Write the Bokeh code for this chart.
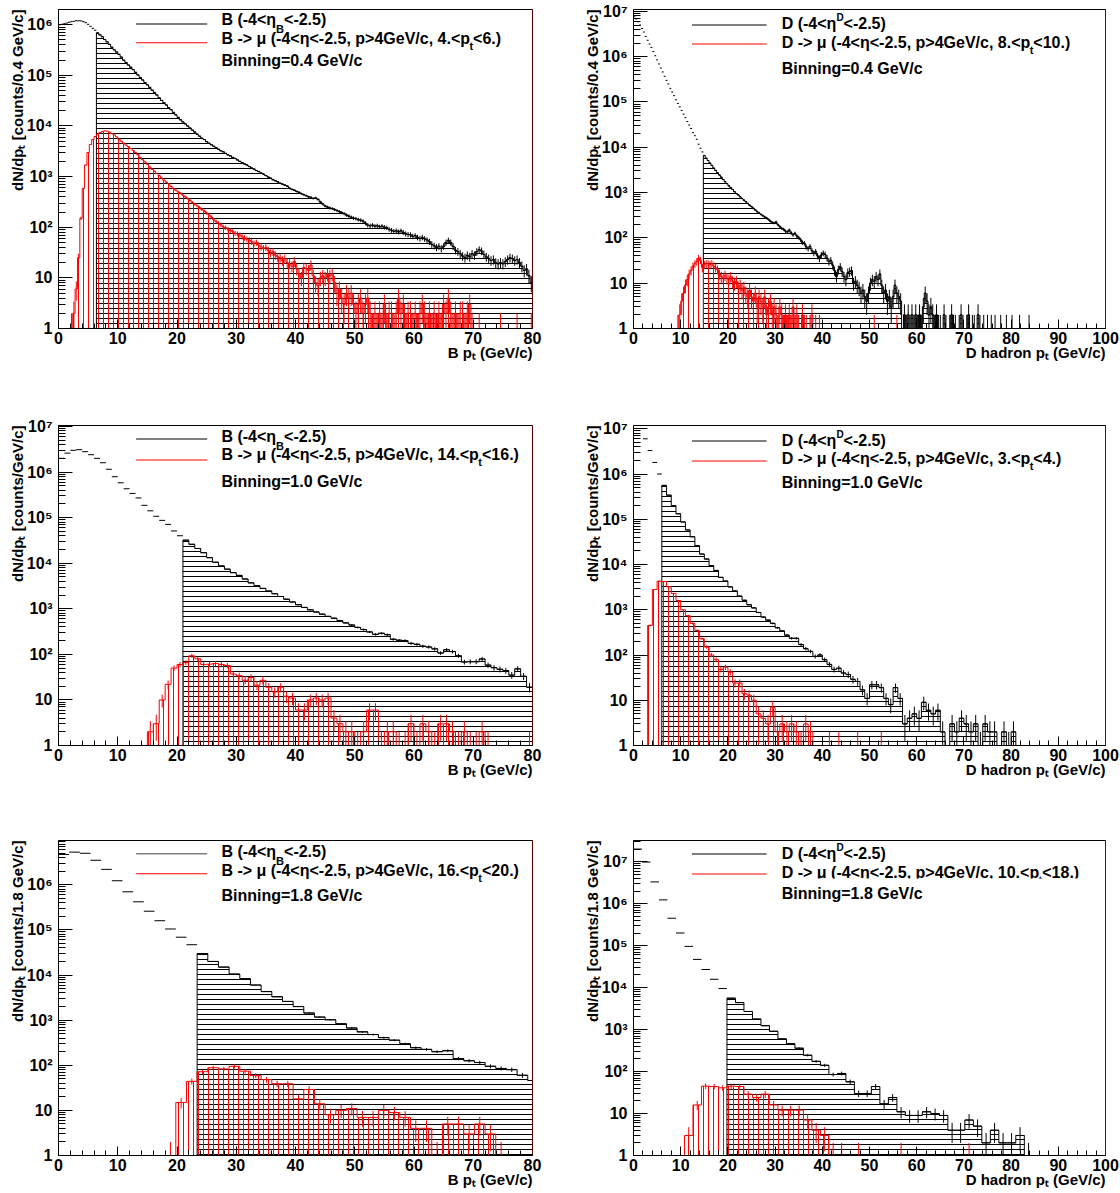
import math
from bokeh.plotting import figure
from bokeh.layouts import row, column
from bokeh.models import FixedTicker, Label, Span, Range1d, CustomJSTickFormatter, Title, BoxAnnotation
from bokeh.embed import file_html
from bokeh.resources import INLINE

FONT = "Liberation Sans"
RED = "#ff0000"

# ---------------- data (counts per bin) ----------------
# B, 0.4 GeV/c bins, 0..80
b04_all = [
    1.0e6, 1.02e6, 1.05e6, 1.08e6, 1.12e6, 1.15e6, 1.17e6, 1.2e6, 1.2e6, 1.19e6,
    1.15e6, 1.1e6, 1.02e6, 9.3e5, 8.5e5, 7.8e5, 6.9e5, 6.3e5, 5.8e5, 5.1e5,
    4.6e5, 4.1e5, 3.6e5, 3.2e5, 2.9e5, 2.6e5, 2.3e5, 2.0e5, 1.8e5, 1.6e5,
    1.45e5, 1.3e5, 1.15e5, 1.02e5, 9.1e4, 8.1e4, 7.2e4, 6.5e4, 5.8e4, 5.1e4,
    4.6e4, 4.1e4, 3.6e4, 3.2e4, 2.9e4, 2.6e4, 2.3e4, 2.1e4, 1.86e4, 1.66e4,
    1.48e4, 1.32e4, 1.2e4, 1.1e4, 1.0e4, 9100, 8300, 7600, 6900, 6300,
    5750, 5400, 4900, 4570, 4270, 3980, 3720, 3470, 3240, 3090,
    2880, 2690, 2570, 2400, 2290, 2140, 2000, 1900, 1780, 1700,
    1580, 1480, 1410, 1320, 1260, 1170, 1120, 1050, 980, 930,
    870, 830, 790, 740, 710, 680, 650, 590, 560, 540,
    510, 490, 460, 440, 420, 400, 390, 370, 380, 355,
    316, 288, 263, 251, 240, 234, 224, 214, 204, 195,
    186, 174, 166, 158, 151, 148, 141, 138, 132, 120,
    110, 107, 110, 105, 107, 102, 105, 100, 98, 91,
    87, 83, 85, 81, 85, 79, 74, 72, 71, 66,
    68, 63, 60, 63, 59, 56, 52, 46, 43, 40,
    42, 38, 42, 50, 55, 50, 42, 35, 33, 30,
    27, 25, 28, 26, 30, 28, 33, 36, 34, 29,
    26, 24, 22, 23, 20, 19, 20, 19, 21, 23,
    25, 24, 22, 23, 20, 17, 14, 15, 11, 8,
]
b04_mu = [
    0, 0, 0, 0, 0, 1, 2, 6, 25, 150,
    580, 1700, 3000, 4300, 5400, 6200, 6900, 7400, 7800, 8000,
    7900, 7600, 7100, 6700, 6100, 5500, 5000, 4600, 4200, 3900,
    3600, 3300, 3000, 2700, 2400, 2150, 1950, 1750, 1550, 1400,
    1280, 1150, 1050, 940, 850, 780, 720, 640, 580, 540,
    500, 470, 430, 400, 370, 340, 310, 285, 265, 245,
    225, 210, 190, 175, 160, 140, 130, 120, 112, 102,
    98, 92, 86, 82, 76, 74, 70, 65, 62, 58,
    56, 52, 48, 50, 44, 41, 38, 40, 35, 31,
    33, 28, 26, 25, 22, 24, 20, 19, 17, 21,
    15, 12, 10, 16, 15, 14, 18, 11, 8, 7,
    10, 11, 10, 12, 11, 12, 8, 5, 6, 4,
    3, 5, 4, 5, 3, 2, 3, 4, 2, 3,
    4, 2, 1, 2, 1, 2, 1, 3, 1, 2,
    2, 1, 2, 4, 2, 3, 1, 2, 2, 1,
    2, 1, 2, 3, 2, 1, 2, 1, 2, 1,
    2, 1, 3, 2, 4, 2, 1, 2, 1, 2,
    2, 1, 2, 3, 1, 0, 0, 1, 0, 0,
    0, 0, 0, 0, 0, 0, 1, 0, 0, 0,
    0, 0, 0, 1, 0, 0, 0, 0, 0, 1,
]
# D, 0.4 GeV/c bins, 0..100
d04_all = [
    7.6e6, 6.8e6, 5.9e6, 5.0e6, 4.2e6, 3.5e6, 2.8e6, 2.3e6, 1.9e6, 1.6e6,
    1.3e6, 1.05e6, 8.5e5, 6.9e5, 5.6e5, 4.6e5, 3.7e5, 3.0e5, 2.5e5, 2.0e5,
    1.66e5, 1.38e5, 1.12e5, 9.3e4, 7.8e4, 6.5e4, 5.4e4, 4.5e4, 3.7e4, 3.1e4,
    2.6e4, 2.1e4, 1.8e4, 1.5e4, 1.17e4, 9500, 7900, 6600, 5750, 5100,
    4470, 3980, 3470, 3090, 2750, 2450, 2190, 1950, 1740, 1580,
    1410, 1290, 1170, 1050, 950, 890, 810, 740, 680, 630,
    575, 525, 490, 450, 415, 380, 355, 330, 310, 290,
    275, 255, 234, 219, 214, 224, 195, 178, 162, 155,
    141, 135, 148, 129, 117, 126, 110, 102, 91, 79,
    76, 63, 58, 65, 52, 46, 50, 40, 35, 42,
    46, 43, 36, 30, 32, 25, 19, 14, 20, 23,
    18, 14, 12, 17, 18, 19, 10, 11, 9, 8,
    6, 7, 5, 4, 6, 10, 12, 11, 14, 12,
    16, 9, 6, 7, 4, 5, 3, 5, 9, 6,
    5, 4, 0, 2, 1, 2, 1, 2, 1, 2,
    1, 2, 1, 3, 6, 4, 2, 3, 2, 1,
    2, 1, 1, 0, 2, 1, 0, 1, 2, 1,
    1, 0, 1, 2, 1, 0, 1, 2, 0, 1,
    1, 0, 2, 1, 0, 1, 0, 1, 0, 1,
    0, 1, 0, 0, 1, 0, 0, 1, 0, 0,
    1, 0, 0, 0, 1, 0, 0, 0, 0, 1,
] + [0] * 40
d04_mu = [0] * 23 + [
    1, 2, 4, 6, 9, 12, 16, 19, 24, 27,
    30, 36, 32, 22, 26, 27, 27, 26, 27, 24,
    22, 20, 16, 14, 13, 15, 13, 12, 14, 11,
    10, 11, 8, 9, 7, 8, 6, 5, 7, 5,
    4, 6, 3, 5, 4, 3, 5, 2, 3, 4,
    2, 3, 2, 1, 3, 2, 1, 2, 1, 2,
    1, 3, 1, 2, 1, 0, 2, 1, 1, 0,
    1, 2, 0, 1, 0, 1, 0,
] + [0] * 27 + [1] + [0] * 11 + [1] + [0] * 110
# B, 1.0 GeV/c bins, 0..80
b10_all = [
    2.0e6, 2.6e6, 3.0e6, 3.1e6, 2.8e6, 2.4e6, 2.0e6, 1.6e6, 1.15e6, 7.9e5,
    5.8e5, 4.3e5, 3.4e5, 2.7e5, 1.86e5, 1.41e5, 1.07e5, 8.7e4, 7.1e4, 5.1e4,
    4.0e4, 3.2e4, 2.6e4, 2.1e4, 1.7e4, 1.32e4, 1.05e4, 8700, 7400, 6200,
    5400, 4500, 3700, 3200, 2800, 2450, 2140, 1860, 1620, 1410,
    1230, 1070, 950, 850, 760, 680, 620, 550, 490, 440,
    390, 350, 310, 275, 290, 270, 214, 204, 200, 174,
    166, 151, 145, 132, 107, 126, 115, 93, 68, 69,
    69, 79, 58, 51, 47, 44, 35, 48, 33, 19,
]
b10_mu = [
    0, 0, 0, 0, 0, 0, 0, 0, 0, 0,
    0, 0, 0, 0, 0, 2, 3, 10, 22, 50,
    60, 66, 93, 80, 60, 61, 63, 60, 57, 37,
    34, 27, 31, 21, 27, 19, 15, 19, 12, 11,
    6, 6, 10, 11, 10, 11, 4, 3, 2, 2,
    1, 2, 6, 6, 1, 2, 2, 1, 1, 3,
    1, 3, 2, 1, 3, 3, 2, 1, 2, 1,
    1, 2, 1, 0, 0, 0, 0, 0, 0, 1,
]
# D, 1.0 GeV/c bins, 0..100
d10_all = [
    1.4e7, 1.25e7, 6.0e6, 3.3e6, 1.8e6, 1.0e6, 5.6e5, 3.4e5, 2.0e5, 1.32e5,
    8.7e4, 5.8e4, 4.1e4, 2.6e4, 1.7e4, 1.32e4, 9500, 7400, 5200, 4300,
    3200, 2600, 2000, 1620, 1290, 1100, 870, 690, 590, 500,
    400, 340, 275, 234, 234, 170, 138, 120, 93, 100,
    79, 62, 48, 51, 40, 37, 29, 26, 17, 11,
    22, 22, 19, 11, 8, 19, 11, 3, 4, 5,
    4, 9, 6, 5, 6, 2, 0, 3, 2, 4,
    3, 2, 3, 1, 3, 2, 2, 0, 2, 1,
    2, 0, 0, 0, 0, 0, 0, 0, 0, 0,
    0, 0, 0, 0, 0, 0, 0, 0, 0, 0,
]
d10_mu = [
    0, 0, 0, 450, 2800, 4300, 4200, 3200, 2300, 1600,
    1000, 740, 500, 350, 230, 150, 100, 79, 48, 54,
    42, 24, 24, 14, 13, 10, 5, 4, 3, 7,
    2, 3, 2, 3, 2, 1, 3, 2, 0, 0,
    0, 1, 0, 1, 0, 0, 0, 1, 0, 0,
    0, 0, 1, 0, 0, 0, 0, 0, 0, 0,
] + [0] * 40
# B, 1.8 GeV/c bins, 0..81
b18_all = [
    4.7e6, 5.3e6, 5.0e6, 3.5e6, 2.2e6, 1.23e6, 7.0e5, 4.2e5, 2.6e5, 1.6e5,
    1.05e5, 6.9e4, 4.7e4, 3.0e4, 2.0e4, 1.5e4, 1.05e4, 8300, 6000, 4300,
    3300, 2600, 2000, 1440, 1170, 1020, 830, 670, 550, 480,
    410, 360, 300, 245, 225, 200, 210, 141, 126, 115,
    95, 85, 80, 60, 46,
]
b18_mu = [
    0, 0, 0, 0, 0, 0, 0, 0, 0, 0,
    1, 15, 44, 72, 88, 83, 95, 74, 59, 48,
    39, 39, 18, 29, 14, 8, 10, 11, 7, 7,
    10, 9, 7, 4, 4, 1, 5, 5, 3, 5,
    3, 1, 0, 0, 0,
]
# D, 1.8 GeV/c bins, 0..100.8
d18_all = [
    2.0e7, 9.8e6, 3.3e6, 1.23e6, 4.5e5, 2.0e5, 9.6e4, 4.7e4, 2.7e4, 1.58e4,
    9500, 5600, 4400, 2700, 1780, 1240, 910, 600, 460, 360,
    245, 175, 141, 85, 90, 57, 30, 30, 44, 17,
    24, 11, 9, 9, 11, 10, 9, 4, 4, 7,
    5, 2, 4, 2, 2, 3, 1, 0, 0, 0,
    0, 0, 0, 0, 0, 0,
]
d18_mu = [
    0, 0, 0, 0, 0, 0, 3, 16, 45, 44,
    41, 45, 44, 29, 24, 29, 16, 12, 12, 12,
    7, 4, 3, 1, 1, 0, 1, 0, 0, 0,
    0, 1, 0, 0, 0, 0, 0, 0, 0, 1,
] + [0] * 16

# ---------------- text metrics (Arial/Liberation Sans Bold advance widths) ----------------
ADV = {' ': 278, '(': 333, ')': 333, '-': 333, '<': 584, '>': 584, '.': 278, ',': 278,
       '=': 584, '/': 278, '[': 333, ']': 333, 'B': 722, 'D': 722, 'G': 778, 'V': 667,
       'N': 722, 'a': 556, 'c': 556, 'd': 611, 'e': 556, 'g': 611, 'h': 611, 'i': 278,
       'n': 611, 'o': 611, 'p': 611, 'r': 389, 's': 556, 't': 333, 'u': 611,
       'η': 611, 'μ': 576}
for _d in "0123456789":
    ADV[_d] = 556

TEXT_LIFT = 5  # the label anchor sits a few pixels above the drawn baseline


def tw(s, size):
    return sum(ADV.get(c, 600) for c in s) * size / 1000.0


def lab(p, **kw):
    base = dict(text_font=FONT, text_font_style="bold", text_color="black",
                text_align="left", text_baseline="alphabetic")
    base.update(kw)
    p.add_layout(Label(**base))


def hrich(p, pieces, x, y, dx, dy):
    cx = dx
    for t, s, shift in pieces:
        lab(p, x=x, y=y, x_offset=cx, y_offset=dy - shift + TEXT_LIFT, text=t,
            text_font_size=f"{s}px")
        cx += tw(t, s)


def draw_hist(p, edges, vals, i0, color, hatch, ymin=1.0):
    xs, ys = [edges[i0]], [ymin]
    for i in range(i0, len(vals)):
        v = max(vals[i], ymin)
        xs += [edges[i], edges[i + 1]]
        ys += [v, v]
    xs.append(edges[len(vals)])
    ys.append(ymin)
    p.patch(xs, ys, fill_color=None, line_color=None, hatch_pattern=hatch,
            hatch_color=color, hatch_scale=5, hatch_weight=1)
    p.line(xs, ys, line_color=color, line_width=1)


def draw_errors(p, edges, vals, color, dashes):
    x0, x1, yv, xc, ylo, yhi = [], [], [], [], [], []
    for i, v in enumerate(vals):
        if v <= 0:
            continue
        e = math.sqrt(v)
        x0.append(edges[i]); x1.append(edges[i + 1]); yv.append(v)
        xc.append(0.5 * (edges[i] + edges[i + 1]))
        ylo.append(max(v - e, 0.4)); yhi.append(v + e)
    if dashes:
        p.segment(x0, yv, x1, yv, line_color=color, line_width=1)
    p.segment(xc, ylo, xc, yhi, line_color=color, line_width=1)


CFG = [
    dict(all=b04_all, mu=b04_mu, w=0.4, cut=16, xmax=80, ymax=2.0e6, kind="B",
         pt=("4.", "6."), binlab="0.4 GeV/c", ylab=" [counts/0.4 GeV/c]", leg=(14, 15, 33, 34, 56)),
    dict(all=d04_all, mu=d04_mu, w=0.4, cut=37, xmax=100, ymax=1.1e7, kind="D",
         pt=("8.", "10."), binlab="0.4 GeV/c", ylab=" [counts/0.4 GeV/c]", leg=(15, 19, 34, 38, 64)),
    dict(all=b10_all, mu=b10_mu, w=1.0, cut=21, xmax=80, ymax=1.05e7, kind="B",
         pt=("14.", "16."), binlab="1.0 GeV/c", ylab=" [counts/GeV/c]", leg=(13, 16, 34, 34, 61)),
    dict(all=d10_all, mu=d10_mu, w=1.0, cut=6, xmax=100, ymax=1.18e7, kind="D",
         pt=("3.", "4."), binlab="1.0 GeV/c", ylab=" [counts/GeV/c]", leg=(15, 20, 35, 38, 62)),
    dict(all=b18_all, mu=b18_mu, w=1.8, cut=13, xmax=80, ymax=9.6e6, kind="B",
         pt=("16.", "20."), binlab="1.8 GeV/c", ylab=" [counts/1.8 GeV/c]", leg=(13, 16, 33, 35, 60)),
    dict(all=d18_all, mu=d18_mu, w=1.8, cut=11, xmax=100, ymax=3.2e7, kind="D",
         pt=("10.", "18."), binlab="1.8 GeV/c", ylab=" [counts/1.8 GeV/c]", leg=(13, 18, 33, 37, 58),
         mask=True),
]
# per row: height, bottom border, top border (left figure, right figure)
ROWS = [dict(h=398, bb=70, bt=(7, 9)), dict(h=398, bb=51, bt=(26, 27)),
        dict(h=396, bb=37, bt=(41, 44))]

SUPJS = """
const e = Math.round(Math.log10(tick));
const sup = ['\u2070','\u00b9','\u00b2','\u00b3','\u2074','\u2075','\u2076','\u2077','\u2078','\u2079'];
if (e == 0) { return '1'; }
if (e == 1) { return '10'; }
return '10' + sup[e];
"""


def make(idx):
    c = CFG[idx]
    r = ROWS[idx // 2]
    left = (idx % 2 == 0)
    W, bl, br = (560, 58, 28) if left else (560, 73, 15)
    bt = r["bt"][0] if left else r["bt"][1]
    FH = r["h"] - bt - r["bb"]
    xmax, ymax = c["xmax"], c["ymax"]
    p = figure(width=W, height=r["h"], x_range=Range1d(0, xmax), y_range=Range1d(1, ymax),
               y_axis_type="log", output_backend="svg", toolbar_location=None, title=None,
               min_border_left=bl, min_border_right=br, min_border_top=bt,
               min_border_bottom=r["bb"])
    p.background_fill_color = "white"
    p.border_fill_color = "white"
    p.outline_line_color = "black"
    p.outline_line_width = 1
    p.xgrid.visible = False
    p.ygrid.visible = False

    p.xaxis.ticker = FixedTicker(ticks=list(range(0, xmax + 1, 10)),
                                 minor_ticks=list(range(0, xmax + 1, 2)))
    top_dec = int(math.floor(math.log10(ymax) + 1e-9))
    p.yaxis.ticker = FixedTicker(ticks=[10.0 ** k for k in range(0, top_dec + 1)],
                                 minor_ticks=[m * 10.0 ** k for k in range(0, top_dec + 1)
                                              for m in range(2, 10) if m * 10.0 ** k < ymax])
    for ax, mj, mn in ((p.xaxis, 9, 5), (p.yaxis, 14, 7)):
        ax.major_tick_in = mj
        ax.major_tick_out = 0
        ax.minor_tick_in = mn
        ax.minor_tick_out = 0
        ax.axis_line_color = "black"
        ax.major_tick_line_color = "black"
        ax.minor_tick_line_color = "black"
        ax.major_label_text_font = FONT
        ax.major_label_text_font_style = "bold"
        ax.major_label_text_font_size = "16px"
        ax.major_label_text_color = "black"
    p.xaxis.major_label_standoff = 3
    p.yaxis.major_label_standoff = 6
    p.yaxis.formatter = CustomJSTickFormatter(code=SUPJS)

    # axis titles (outside the frame, laid out by Bokeh)
    xt = "B p\u209c (GeV/c)" if c["kind"] == "B" else "D hadron p\u209c (GeV/c)"
    p.add_layout(Title(text=xt, align="right", text_font=FONT, text_font_style="bold",
                       text_font_size="15px", text_color="black", standoff=-9), "below")
    p.add_layout(Title(text="dN/dp\u209c" + c["ylab"], align="right", text_font=FONT,
                       text_font_style="bold", text_font_size="15px", text_color="black",
                       standoff=-5), "left")

    n = len(c["all"])
    edges = [c["w"] * i for i in range(n + 1)]
    draw_hist(p, edges, c["all"], c["cut"], "black", "horizontal_line")
    draw_errors(p, edges, c["all"], "black", True)
    nm = len(c["mu"])
    edges_m = [c["w"] * i for i in range(nm + 1)]
    draw_hist(p, edges_m, c["mu"], 0, RED, "vertical_line")
    draw_errors(p, edges_m, c["mu"], RED, False)

    p.add_layout(Span(location=xmax, dimension="height",
                      line_color="#aa0000" if left else RED, line_width=1))

    # legend: two 1-pixel-high bars (black, red), then the texts
    l1, t1, l2, t2, t3 = c["leg"]
    if left:
        lx0, lx1, tx = 13.1, 25.1, 27.5
    else:
        lx0, lx1, tx = 12.4, 28.2, 31.4
    ltop = math.log10(ymax)

    def ypx(off):
        return 10 ** (ltop * (1 - off / FH))

    p.quad(left=[lx0, lx0], right=[lx1, lx1], top=[ypx(l1), ypx(l2)],
           bottom=[ypx(l1 + 1), ypx(l2 + 1)], fill_color=["black", RED], line_color=None)
    K = c["kind"]
    if K == "B":
        p1 = [("B (-4<η", 16, 0), ("B", 11, 9), ("<-2.5)", 16, 0)]
    else:
        p1 = [("D (-4<η", 16, 0), ("D", 10, -6), ("<-2.5)", 16, 0)]
    hrich(p, p1, tx, ymax, 0, -t1)
    p2 = [(f"{K} -> μ (-4<η<-2.5, p>4GeV/c, {c['pt'][0]}<p", 16, 0), ("t", 11, 7),
          (f"<{c['pt'][1]})", 16, 0)]
    hrich(p, p2, tx, ymax, 0, -t2)
    if c.get("mask"):
        # the white box of the "Binning" text clips the very bottom of the line above it
        p.add_layout(BoxAnnotation(left=tx - 0.3, right=97.5, top=ypx(t2 + 1),
                                   bottom=ypx(t3 + 4), fill_color="white", fill_alpha=1.0,
                                   line_color=None))
    hrich(p, [(f"Binning={c['binlab']}", 16, 0)], tx, ymax, 0, -t3)
    return p


figs = [make(i) for i in range(6)]
layout = column(row(figs[0], figs[1]), row(figs[2], figs[3]), row(figs[4], figs[5]))
open("out.html", "w", encoding="utf-8").write(file_html(layout, INLINE, "histograms"))
